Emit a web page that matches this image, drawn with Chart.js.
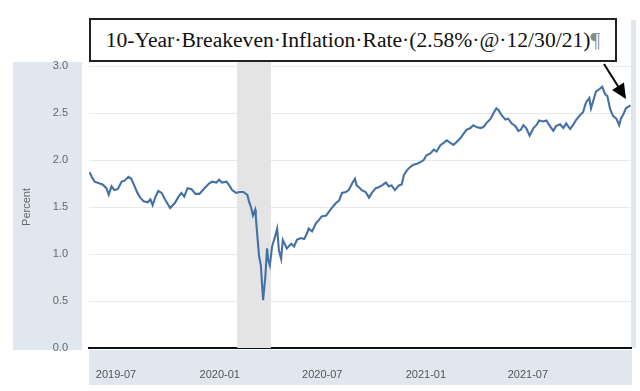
<!DOCTYPE html>
<html lang="en">
<head>
<meta charset="UTF-8">
<title>10-Year Breakeven Inflation Rate</title>
<style>
  html, body { margin: 0; padding: 0; background: #fff; }
  #wrap { position: relative; width: 640px; height: 391px; overflow: hidden; }
  #chart { position: absolute; left: 0; top: 0; }
  .callout {
    position: absolute; left: 89px; top: 18px; width: 528px; height: 44px;
    box-sizing: border-box; border: 2px solid #222; background: #fff;
    font-family: 'Liberation Serif', 'Times New Roman', serif; font-size: 21.6px; color: #111;
    display: flex; align-items: center; justify-content: center; white-space: nowrap;
  }
  .pilcrow { color: #888; }
</style>
</head>
<body>
<div id="wrap">
  <canvas id="chart" width="640" height="391"></canvas>
  <div class="callout">10-Year·Breakeven·Inflation·Rate·(2.58%·@·12/30/21)<span class="pilcrow">¶</span></div>
</div>
<script src="https://cdn.jsdelivr.net/npm/chart.js"></script>
<script>
// values (percent)
const dates = [
  '2019-05-15','2019-05-19','2019-05-24','2019-06-02','2019-06-07','2019-06-14','2019-06-18','2019-06-23','2019-06-28','2019-07-04',
  '2019-07-11','2019-07-16','2019-07-23','2019-07-28','2019-08-03','2019-08-08','2019-08-13','2019-08-19','2019-08-26','2019-08-31',
  '2019-09-04','2019-09-09','2019-09-14','2019-09-20','2019-09-25','2019-09-30','2019-10-05','2019-10-13','2019-10-20','2019-10-25',
  '2019-10-30','2019-11-05','2019-11-12','2019-11-19','2019-11-26','2019-12-05','2019-12-13','2019-12-19','2019-12-26','2019-12-31',
  '2020-01-05','2020-01-13','2020-01-18','2020-01-23','2020-01-30','2020-02-05','2020-02-12','2020-02-19','2020-02-22','2020-02-26',
  '2020-02-29','2020-03-04','2020-03-05','2020-03-08','2020-03-11','2020-03-14','2020-03-16','2020-03-18','2020-03-22','2020-03-25',
  '2020-03-27','2020-03-30','2020-04-03','2020-04-08','2020-04-12','2020-04-15','2020-04-19','2020-04-22','2020-04-29','2020-05-07',
  '2020-05-12','2020-05-17','2020-05-24','2020-05-30','2020-06-04','2020-06-07','2020-06-13','2020-06-20','2020-06-25','2020-06-30',
  '2020-07-08','2020-07-13','2020-07-18','2020-07-25','2020-07-31','2020-08-05','2020-08-12','2020-08-17','2020-08-23','2020-08-28',
  '2020-08-31','2020-09-06','2020-09-09','2020-09-16','2020-09-22','2020-09-27','2020-10-04','2020-10-09','2020-10-15','2020-10-22',
  '2020-10-27','2020-11-01','2020-11-07','2020-11-14','2020-11-19','2020-11-23','2020-11-28','2020-12-05','2020-12-10','2020-12-16',
  '2020-12-23','2020-12-28','2021-01-02','2021-01-09','2021-01-15','2021-01-20','2021-01-27','2021-02-01','2021-02-07','2021-02-14',
  '2021-02-19','2021-02-24','2021-03-03','2021-03-09','2021-03-14','2021-03-21','2021-03-26','2021-04-01','2021-04-08','2021-04-13',
  '2021-04-18','2021-04-26','2021-05-01','2021-05-06','2021-05-10','2021-05-15','2021-05-22','2021-05-27','2021-06-02','2021-06-09',
  '2021-06-14','2021-06-18','2021-06-23','2021-06-28','2021-07-04','2021-07-11','2021-07-16','2021-07-21','2021-07-28','2021-08-03',
  '2021-08-08','2021-08-15','2021-08-20','2021-08-27','2021-09-02','2021-09-07','2021-09-14','2021-09-19','2021-09-25','2021-10-02',
  '2021-10-07','2021-10-12','2021-10-18','2021-10-21','2021-10-27','2021-10-30','2021-11-04','2021-11-10','2021-11-15','2021-11-19',
  '2021-11-24','2021-11-29','2021-12-05','2021-12-10','2021-12-13','2021-12-17','2021-12-22','2021-12-30'
];
const rates = [
  1.87, 1.82, 1.77, 1.75, 1.74, 1.70, 1.63, 1.72, 1.68, 1.69,
  1.77, 1.78, 1.82, 1.80, 1.72, 1.65, 1.60, 1.56, 1.55, 1.58,
  1.52, 1.61, 1.67, 1.65, 1.59, 1.54, 1.49, 1.54, 1.61, 1.65,
  1.61, 1.70, 1.69, 1.64, 1.64, 1.70, 1.75, 1.77, 1.76, 1.79,
  1.76, 1.77, 1.73, 1.68, 1.65, 1.66, 1.66, 1.63, 1.56, 1.49,
  1.41, 1.47, 1.40, 1.18, 0.97, 0.88, 0.69, 0.51, 0.76, 1.06,
  0.94, 0.88, 1.08, 1.18, 1.27, 1.04, 0.95, 1.15, 1.06, 1.11,
  1.08, 1.15, 1.17, 1.16, 1.22, 1.27, 1.24, 1.33, 1.36, 1.40,
  1.41, 1.45, 1.49, 1.54, 1.57, 1.65, 1.66, 1.68, 1.75, 1.80,
  1.73, 1.70, 1.68, 1.66, 1.60, 1.65, 1.70, 1.71, 1.73, 1.76,
  1.72, 1.73, 1.68, 1.73, 1.74, 1.84, 1.89, 1.93, 1.95, 1.96,
  1.98, 2.00, 2.05, 2.07, 2.11, 2.09, 2.16, 2.18, 2.21, 2.18,
  2.16, 2.19, 2.23, 2.28, 2.32, 2.34, 2.37, 2.35, 2.34, 2.35,
  2.39, 2.44, 2.50, 2.55, 2.53, 2.48, 2.43, 2.44, 2.39, 2.36,
  2.31, 2.32, 2.37, 2.34, 2.26, 2.34, 2.37, 2.42, 2.41, 2.42,
  2.37, 2.31, 2.36, 2.38, 2.34, 2.39, 2.33, 2.37, 2.43, 2.48,
  2.51, 2.61, 2.66, 2.55, 2.67, 2.73, 2.75, 2.78, 2.70, 2.68,
  2.54, 2.47, 2.44, 2.37, 2.44, 2.48, 2.55, 2.58
];
const tickDates = ['2019-07-01', '2020-01-01', '2020-07-01', '2021-01-01', '2021-07-01'];
const tickLabels = ['2019-07', '2020-01', '2020-07', '2021-01', '2021-07'];
const yTicks = [0, 0.5, 1.0, 1.5, 2.0, 2.5, 3.0];
const recession = ['2020-02-01', '2020-04-01'];

const ms = s => Date.parse(s + 'T00:00:00Z');
const points = dates.map((d, i) => ({ x: ms(d), y: rates[i] }));

const decor = {
  id: 'decor',
  beforeDraw(chart) {
    const ctx = chart.ctx, a = chart.chartArea;
    ctx.save();
    ctx.fillStyle = '#e0e7ef';
    ctx.fillRect(13, 62, 69, 288);              // y axis panel
    ctx.fillRect(a.left, a.bottom + 2, a.right - a.left + 1, 35); // x axis band
    ctx.fillRect(a.right, 20, 5, a.bottom - 20); // right edge strip
    ctx.restore();
  },
  beforeDatasetsDraw(chart) {
    const ctx = chart.ctx, a = chart.chartArea, x = chart.scales.x;
    const x0 = x.getPixelForValue(ms(recession[0]));
    const x1 = x.getPixelForValue(ms(recession[1]));
    ctx.save();
    ctx.fillStyle = '#e4e4e4';
    ctx.fillRect(x0, a.top - 4, x1 - x0, a.bottom - a.top + 4);
    ctx.restore();
  },
  afterDraw(chart) {
    // callout arrow pointing at the last value
    const ctx = chart.ctx;
    const x0 = 604, y0 = 64, x1 = 626, y1 = 99;
    const ang = Math.atan2(y1 - y0, x1 - x0);
    ctx.save();
    ctx.strokeStyle = '#000';
    ctx.fillStyle = '#000';
    ctx.lineWidth = 2;
    ctx.beginPath();
    ctx.moveTo(x0, y0);
    ctx.lineTo(x1 - 12 * Math.cos(ang), y1 - 12 * Math.sin(ang));
    ctx.stroke();
    ctx.beginPath();
    ctx.moveTo(x1, y1);
    ctx.lineTo(x1 - 15 * Math.cos(ang) + 7 * Math.sin(ang), y1 - 15 * Math.sin(ang) - 7 * Math.cos(ang));
    ctx.lineTo(x1 - 15 * Math.cos(ang) - 7 * Math.sin(ang), y1 - 15 * Math.sin(ang) + 7 * Math.cos(ang));
    ctx.closePath();
    ctx.fill();
    ctx.restore();
  }
};

new Chart(document.getElementById('chart'), {
  type: 'line',
  data: {
    datasets: [{
      label: '10-Year Breakeven Inflation Rate',
      data: points,
      borderColor: '#4470a6',
      borderWidth: 2.1,
      pointRadius: 0,
      tension: 0,
      fill: false
    }]
  },
  options: {
    responsive: false,
    animation: false,
    devicePixelRatio: 1,
    layout: { padding: { top: 66, right: 9, bottom: 0, left: 0 } },
    plugins: { legend: { display: false }, tooltip: { enabled: false } },
    scales: {
      x: {
        type: 'linear',
        min: ms('2019-05-14'),
        max: ms('2021-12-31'),
        afterFit(s) { s.height = 43; },
        afterBuildTicks(s) { s.ticks = tickDates.map(d => ({ value: ms(d) })); },
        ticks: {
          autoSkip: false, maxRotation: 0, padding: 12, color: '#555',
          font: { family: 'Liberation Sans', size: 11 },
          callback: (v, i) => tickLabels[i]
        },
        grid: { display: false },
        border: { color: '#111', width: 2 }
      },
      y: {
        min: 0,
        max: 3,
        afterFit(s) { s.width = 89; },
        afterBuildTicks(s) { s.ticks = yTicks.map(v => ({ value: v })); },
        ticks: {
          padding: 21, color: '#666',
          font: { family: 'Liberation Sans', size: 11 },
          callback: v => v.toFixed(1)
        },
        grid: { color: '#e8e8e8', drawTicks: false },
        border: { display: false },
        title: {
          display: true, text: 'Percent', color: '#666',
          font: { family: 'Liberation Sans', size: 11 },
          padding: { top: 20, bottom: 0 }
        }
      }
    }
  },
  plugins: [decor]
});
</script>
</body>
</html>
